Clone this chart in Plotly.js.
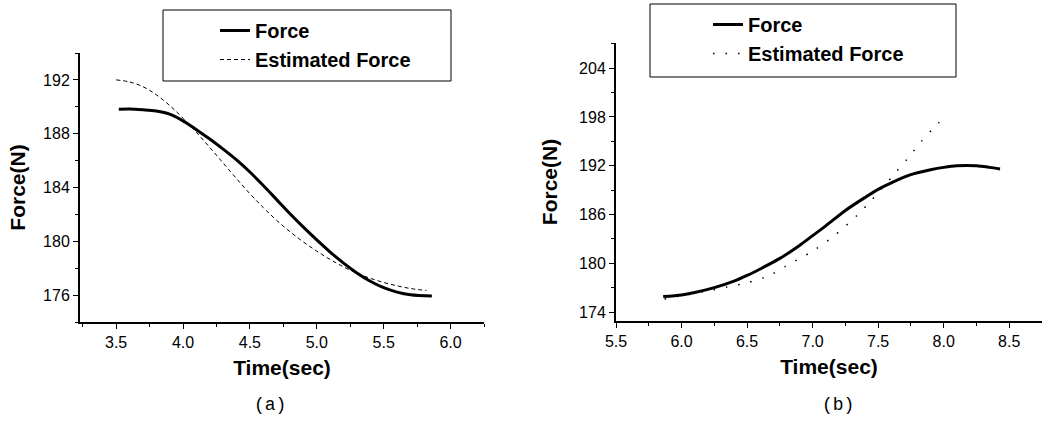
<!DOCTYPE html>
<html>
<head>
<meta charset="utf-8">
<script src="https://cdn.plot.ly/plotly-3.0.1.min.js"></script>
<style>html,body{margin:0;padding:0;background:#fff;}#chart{width:1042px;height:424px;}</style>
</head>
<body>
<div id="chart"></div>
<script>
// ---- data ----
const timeA = [3.52, 3.6, 3.7, 3.8, 3.9, 4.0, 4.1, 4.2, 4.3, 4.4, 4.5, 4.6, 4.7, 4.8, 4.9, 5.0, 5.1, 5.2, 5.3, 5.4, 5.5, 5.6, 5.7, 5.86];
const forceA = [189.82, 189.84, 189.78, 189.68, 189.45, 188.95, 188.3, 187.6, 186.85, 186.05, 185.15, 184.15, 183.1, 182.05, 181.05, 180.1, 179.2, 178.38, 177.65, 177.03, 176.55, 176.22, 176.02, 175.93];
const timeAest = [3.5, 3.6, 3.7, 3.8, 3.9, 4.0, 4.1, 4.2, 4.3, 4.4, 4.5, 4.6, 4.7, 4.8, 4.9, 5.0, 5.1, 5.2, 5.3, 5.4, 5.5, 5.6, 5.7, 5.82];
const estA = [192.0, 191.85, 191.5, 190.9, 190.1, 189.15, 188.1, 186.98, 185.82, 184.66, 183.54, 182.51, 181.56, 180.71, 179.95, 179.27, 178.65, 178.1, 177.63, 177.25, 176.94, 176.69, 176.49, 176.34];

const timeB = [5.86, 6.0, 6.1, 6.25, 6.4, 6.5, 6.6, 6.75, 6.9, 7.0, 7.1, 7.25, 7.4, 7.5, 7.6, 7.75, 7.9, 8.0, 8.1, 8.25, 8.35, 8.43];
const forceB = [175.9, 176.1, 176.4, 177.0, 177.8, 178.5, 179.3, 180.6, 182.2, 183.4, 184.6, 186.5, 188.1, 189.1, 189.9, 190.9, 191.5, 191.8, 192.0, 192.0, 191.8, 191.6];
const timeBest = [5.87, 6.0, 6.2, 6.35, 6.5, 6.67, 6.79, 7.0, 7.15, 7.34, 7.44, 7.55, 7.64, 7.72, 7.83, 7.92, 8.02];
const estB = [175.6, 176.0, 176.6, 177.1, 177.6, 178.5, 179.6, 181.5, 183.2, 185.9, 187.6, 189.6, 191.3, 192.8, 195.0, 196.6, 198.2];

const seriesNames = ['Force', 'Estimated Force'];
const xTitle = 'Time(sec)';
const yTitle = 'Force(N)';
const panelLabels = ['(a)', '(b)'];

// ---- layout helpers (pixel -> paper, margins are 0) ----
const W = 1042, H = 424;
const px = v => v / W;
const py = v => 1 - v / H;

const FONT = 'Liberation Sans, Arial, sans-serif';

function axisCommon(extra) {
  return Object.assign({
    showline: true, linecolor: '#000', linewidth: 2,
    ticks: 'outside', ticklen: 5, tickwidth: 1, tickcolor: '#000',
    showgrid: false, zeroline: false, mirror: false,
    tickfont: {family: FONT, size: 16, color: '#000'},
    automargin: false, fixedrange: true
  }, extra);
}

const traces = [
  {x: timeA, y: forceA, name: seriesNames[0], xaxis: 'x', yaxis: 'y', mode: 'lines',
   line: {color: '#000', width: 3, shape: 'spline', smoothing: 1}, legend: 'legend', legendgroup: 'a1'},
  {x: timeAest, y: estA, name: seriesNames[1], xaxis: 'x', yaxis: 'y', mode: 'lines',
   line: {color: '#000', width: 1, dash: '4px,3px', shape: 'spline', smoothing: 1}, legend: 'legend', legendgroup: 'a2'},
  {x: timeB, y: forceB, name: seriesNames[0], xaxis: 'x2', yaxis: 'y2', mode: 'lines',
   line: {color: '#000', width: 3, shape: 'spline', smoothing: 0.8}, legend: 'legend2', legendgroup: 'b1'},
  {x: timeBest, y: estB, name: seriesNames[1], xaxis: 'x2', yaxis: 'y2', mode: 'lines',
   line: {color: '#000', width: 1.5, dash: '1.5px,11px', shape: 'spline', smoothing: 0.8}, legend: 'legend2', legendgroup: 'b2'}
];

const titleFont = {family: FONT, size: 21, color: '#000', weight: 'bold'};
const legendFont = {family: FONT, size: 20, color: '#000', weight: 'bold'};

const layout = {
  width: W, height: H,
  margin: {l: 0, r: 0, t: 0, b: 0},
  paper_bgcolor: '#fff', plot_bgcolor: 'rgba(0,0,0,0)',
  showlegend: true,
  xaxis: axisCommon({domain: [px(80), px(484)], range: [3.23, 6.25], anchor: 'y',
    dtick: 0.5, tick0: 3.5, tickformat: '.1f',
    minor: {ticks: 'outside', ticklen: 3, dtick: 0.25, tick0: 3.5, tickcolor: '#000'},
    title: {text: xTitle, font: titleFont, standoff: 10}}),
  yaxis: axisCommon({domain: [py(322), py(53)], range: [174, 194], anchor: 'x',
    dtick: 4, tick0: 176,
    minor: {ticks: 'outside', ticklen: 3, dtick: 2, tick0: 176, tickcolor: '#000'},
    title: {text: yTitle, font: titleFont, standoff: 12}}),
  xaxis2: axisCommon({domain: [px(616), 1], range: [5.5, 8.75], anchor: 'y2',
    dtick: 0.5, tick0: 5.5, tickformat: '.1f',
    minor: {ticks: 'outside', ticklen: 3, dtick: 0.25, tick0: 5.5, tickcolor: '#000'},
    title: {text: xTitle, font: titleFont, standoff: 10}}),
  yaxis2: axisCommon({domain: [py(321), py(43)], range: [172.9, 207.1], anchor: 'x2',
    dtick: 6, tick0: 174,
    minor: {ticks: 'outside', ticklen: 3, dtick: 3, tick0: 174, tickcolor: '#000'},
    title: {text: yTitle, font: titleFont, standoff: 16}}),
  legend: {x: px(215), y: py(11), xanchor: 'left', yanchor: 'top',
    bgcolor: 'rgba(0,0,0,0)', borderwidth: 0, font: legendFont,
    traceorder: 'grouped', tracegroupgap: 0, itemwidth: 30},
  legend2: {x: px(708), y: py(5), xanchor: 'left', yanchor: 'top',
    bgcolor: 'rgba(0,0,0,0)', borderwidth: 0, font: legendFont,
    traceorder: 'grouped', tracegroupgap: 0, itemwidth: 30},
  shapes: [
    {type: 'rect', xref: 'paper', yref: 'paper', x0: px(163), x1: px(451), y0: py(81), y1: py(10),
     line: {color: '#000', width: 1}, fillcolor: 'rgba(0,0,0,0)', layer: 'above'},
    {type: 'rect', xref: 'paper', yref: 'paper', x0: px(650), x1: px(956), y0: py(77), y1: py(4),
     line: {color: '#000', width: 1}, fillcolor: 'rgba(0,0,0,0)', layer: 'above'}
  ],
  annotations: [
    {text: panelLabels[0], xref: 'paper', yref: 'paper', x: px(270), y: py(405), showarrow: false,
     xanchor: 'center', yanchor: 'middle', font: {family: 'Liberation Mono, monospace', size: 18, color: '#000'}},
    {text: panelLabels[1], xref: 'paper', yref: 'paper', x: px(838), y: py(405), showarrow: false,
     xanchor: 'center', yanchor: 'middle', font: {family: 'Liberation Mono, monospace', size: 18, color: '#000'}}
  ]
};

Plotly.newPlot('chart', traces, layout, {displayModeBar: false, staticPlot: true});
</script>
</body>
</html>
